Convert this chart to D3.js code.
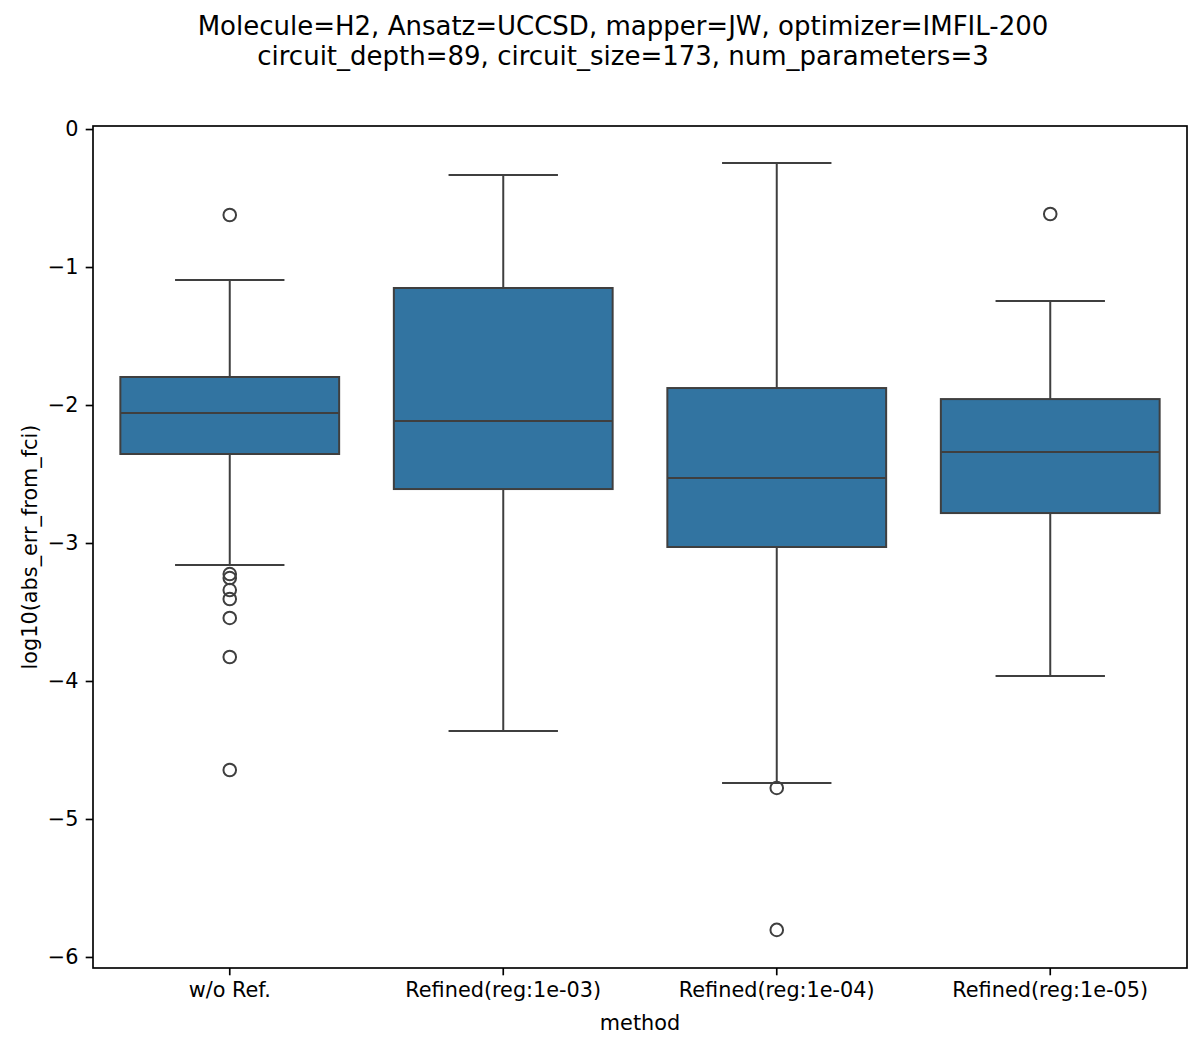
<!DOCTYPE html>
<html>
<head>
<meta charset="utf-8">
<script src="https://cdn.jsdelivr.net/npm/d3@7"></script>
<style>
  html, body { margin: 0; padding: 0; background: #fff; }
  svg { display: block; font-family: 'DejaVu Sans', sans-serif; }
  .axis text { font-family: 'DejaVu Sans', sans-serif; font-size: 20.8px; fill: #000; }
  .axis path, .axis line { stroke: #000; stroke-width: 1.67px; }
</style>
</head>
<body>
<div class="container"><svg></svg></div>
<script>
// data (log10 units)
const methods = ['w/o Ref.', 'Refined(reg:1e-03)', 'Refined(reg:1e-04)', 'Refined(reg:1e-05)']
const whiskerHigh = [-1.094, -0.333, -0.246, -1.246]
const q3 = [-1.797, -1.152, -1.877, -1.957]
const median = [-2.058, -2.116, -2.529, -2.341]
const q1 = [-2.355, -2.609, -3.029, -2.783]
const whiskerLow = [-3.159, -4.362, -4.739, -3.964]
const outliers = [
  [-0.623, -3.225, -3.254, -3.341, -3.406, -3.543, -3.826, -4.645],
  [],
  [-4.775, -5.804],
  [-0.616]
]
const yTicks = [0, -1, -2, -3, -4, -5, -6]
const titleLines = [
  'Molecule=H2, Ansatz=UCCSD, mapper=JW, optimizer=IMFIL-200',
  'circuit_depth=89, circuit_size=173, num_parameters=3'
]

// dimensions
const W = 1200
const H = 1051
const margin = { top: 126, right: 13, bottom: 83, left: 93 }
const width = W - margin.left - margin.right
const height = H - margin.top - margin.bottom

// constants
const boxFill = '#3274a1'
const lineColor = '#3f3f3f'
const lineW = 2

const $svg = d3.select('svg').attr('width', W).attr('height', H)

const stats = methods.map((m, i) => ({
  method: m,
  lo: whiskerLow[i],
  q1: q1[i],
  med: median[i],
  q3: q3[i],
  hi: whiskerHigh[i],
  fliers: outliers[i]
}))

const scaleX = d3.scaleBand().domain(methods).range([0, width]).padding(0)
const scaleY = d3.scaleLinear().domain([-6.08, 0.022]).range([height, 0])

const $g = $svg.append('g').attr('transform', `translate(${margin.left}, ${margin.top})`)

// boxes
const bw = scaleX.bandwidth() * 0.8
const capW = bw / 2
const boxes = $g.selectAll('.box')
  .data(stats)
  .enter()
  .append('g')
  .attr('class', 'box')
  .attr('transform', d => `translate(${scaleX(d.method) + scaleX.bandwidth() / 2}, 0)`)

// whiskers
boxes.append('line')
  .attr('x1', 0).attr('x2', 0)
  .attr('y1', d => scaleY(d.q3)).attr('y2', d => scaleY(d.hi))
  .attr('stroke', lineColor).attr('stroke-width', lineW)
boxes.append('line')
  .attr('x1', 0).attr('x2', 0)
  .attr('y1', d => scaleY(d.q1)).attr('y2', d => scaleY(d.lo))
  .attr('stroke', lineColor).attr('stroke-width', lineW)
// caps
boxes.selectAll('.cap')
  .data(d => [d.hi, d.lo])
  .enter()
  .append('line')
  .attr('class', 'cap')
  .attr('x1', -capW / 2).attr('x2', capW / 2)
  .attr('y1', v => scaleY(v)).attr('y2', v => scaleY(v))
  .attr('stroke', lineColor).attr('stroke-width', lineW)

boxes.append('rect')
  .attr('x', -bw / 2)
  .attr('width', bw)
  .attr('y', d => scaleY(d.q3))
  .attr('height', d => scaleY(d.q1) - scaleY(d.q3))
  .attr('fill', boxFill)
  .attr('stroke', lineColor)
  .attr('stroke-width', lineW)

boxes.append('line')
  .attr('x1', -bw / 2).attr('x2', bw / 2)
  .attr('y1', d => scaleY(d.med)).attr('y2', d => scaleY(d.med))
  .attr('stroke', lineColor).attr('stroke-width', lineW)

boxes.selectAll('.flier')
  .data(d => d.fliers)
  .enter()
  .append('circle')
  .attr('class', 'flier')
  .attr('cx', 0)
  .attr('cy', v => scaleY(v))
  .attr('r', 6.3)
  .attr('fill', 'none')
  .attr('stroke', lineColor)
  .attr('stroke-width', 2)

// axes
const fmt = v => v < 0 ? '\u2212' + Math.abs(v) : String(v)
$g.append('g')
  .attr('class', 'axis')
  .call(d3.axisLeft(scaleY).tickValues(yTicks).tickFormat(fmt).tickSize(7.3).tickPadding(7.3).tickSizeOuter(0))
  .call(a => a.select('.domain').remove())

$g.append('g')
  .attr('class', 'axis')
  .attr('transform', `translate(0, ${height})`)
  .call(d3.axisBottom(scaleX).tickSize(7.3).tickPadding(7.3).tickSizeOuter(0))
  .call(a => a.select('.domain').remove())

// frame
$g.append('rect')
  .attr('width', width)
  .attr('height', height)
  .attr('fill', 'none')
  .attr('stroke', '#000')
  .attr('stroke-width', 1.67)

// labels
$svg.append('text')
  .attr('x', margin.left + width / 2)
  .attr('y', 1030)
  .attr('text-anchor', 'middle')
  .style('font-size', '20.8px')
  .text('method')

$svg.append('text')
  .attr('transform', `translate(37, ${margin.top + height / 2}) rotate(-90)`)
  .attr('text-anchor', 'middle')
  .style('font-size', '20.8px')
  .text('log10(abs_err_from_fci)')

$svg.selectAll('.title')
  .data(titleLines)
  .enter()
  .append('text')
  .attr('class', 'title')
  .attr('x', 623)
  .attr('y', (d, i) => 35 + i * 30)
  .attr('text-anchor', 'middle')
  .style('font-size', '26px')
  .text(d => d)
</script>
</body>
</html>
